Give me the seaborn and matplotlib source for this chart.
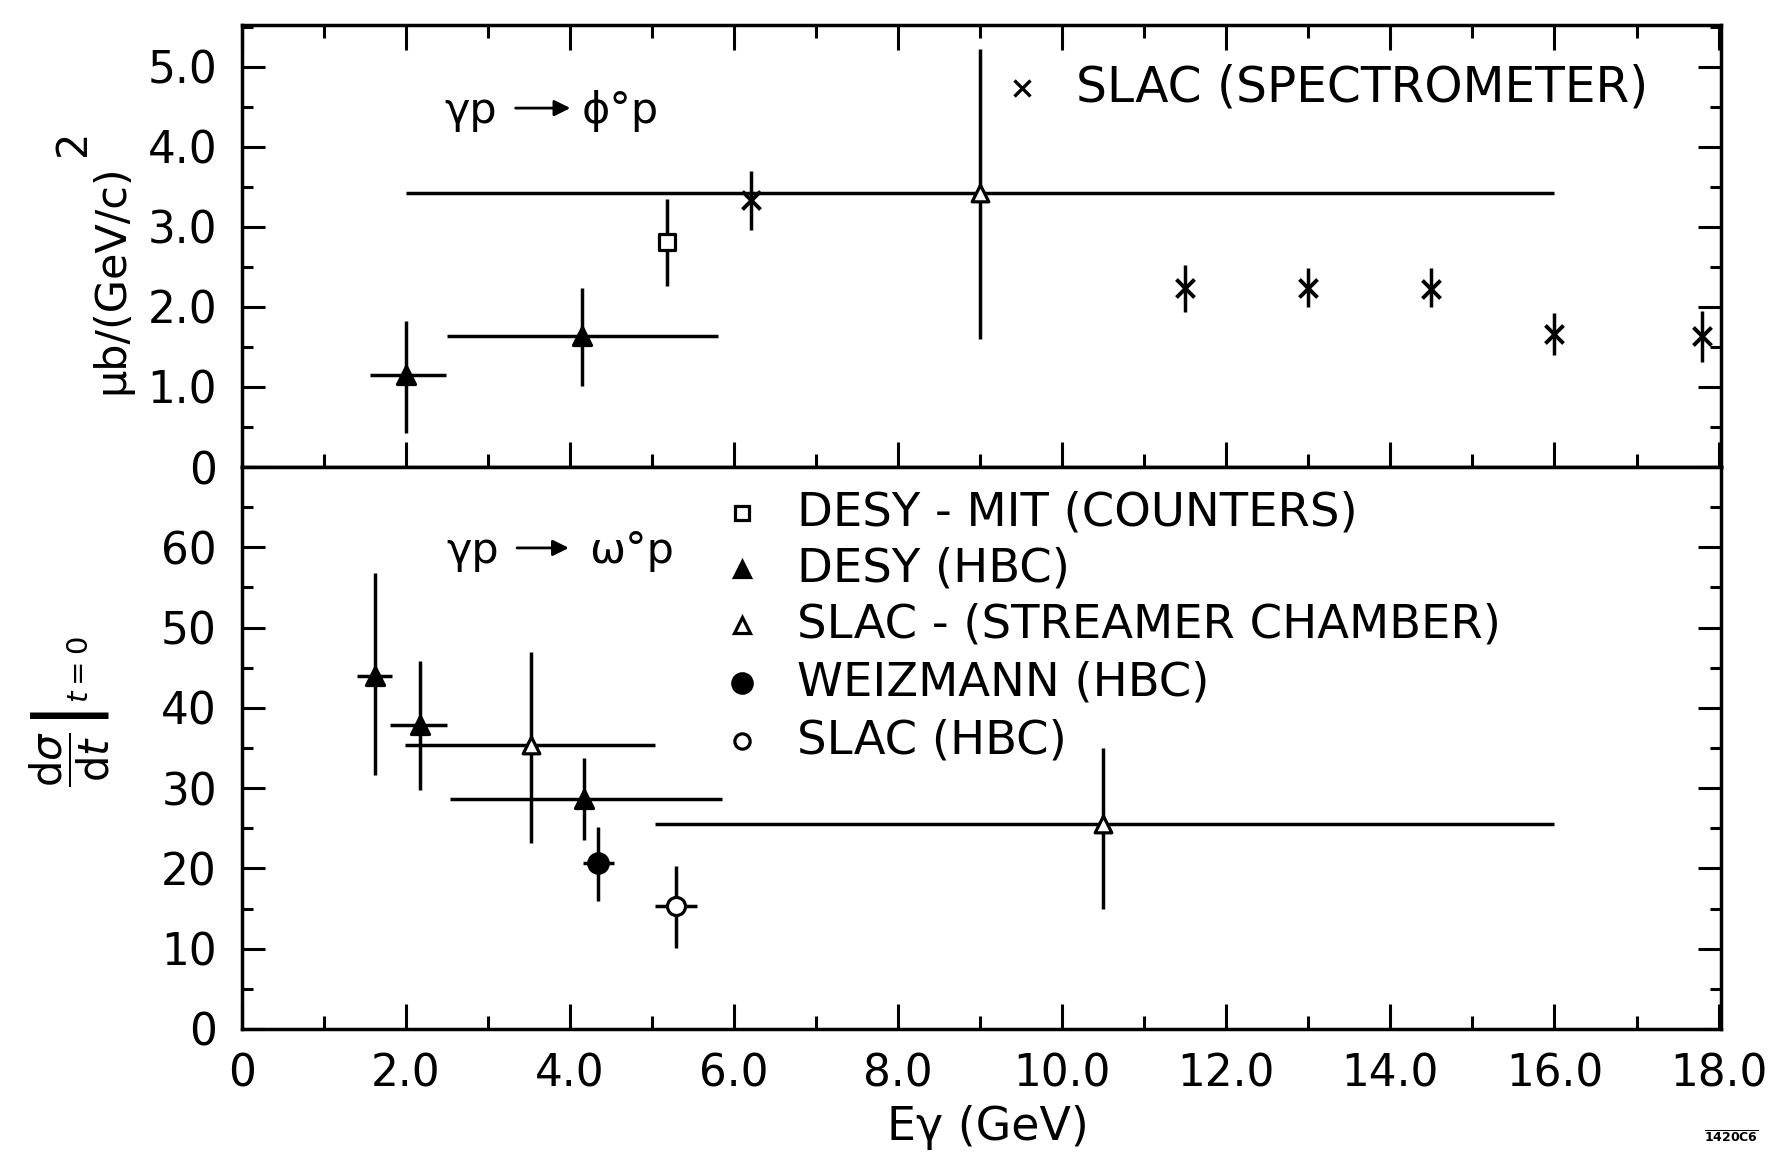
import matplotlib
matplotlib.use("Agg")
import matplotlib.pyplot as plt
from matplotlib.ticker import FixedLocator, MultipleLocator
import numpy as np
import pandas as pd
import seaborn as sns

# ---------------- gamma p -> phi p  (mub/(GeV/c)^2) ----------------
phi_desy_hbc_E = [2.00, 4.15]
phi_desy_hbc_val = [1.15, 1.63]
phi_desy_hbc_lo = [0.42, 1.01]
phi_desy_hbc_hi = [1.82, 2.23]
phi_desy_hbc_Elo = [1.56, 2.50]
phi_desy_hbc_Ehi = [2.49, 5.80]

phi_desy_mit_E = [5.18]
phi_desy_mit_val = [2.81]
phi_desy_mit_lo = [2.26]
phi_desy_mit_hi = [3.35]

phi_slac_spec_E = [6.2, 11.5, 13.0, 14.5, 16.0, 17.8]
phi_slac_spec_val = [3.34, 2.23, 2.23, 2.22, 1.66, 1.63]
phi_slac_spec_lo = [2.96, 1.93, 2.00, 2.00, 1.40, 1.31]
phi_slac_spec_hi = [3.70, 2.52, 2.48, 2.48, 1.92, 1.95]

phi_slac_stream_E = [9.0]
phi_slac_stream_val = [3.42]
phi_slac_stream_lo = [1.60]
phi_slac_stream_hi = [5.22]
phi_slac_stream_Elo = [2.0]
phi_slac_stream_Ehi = [16.0]

# ---------------- gamma p -> omega p ----------------
om_desy_hbc_E = [1.62, 2.17, 4.17]
om_desy_hbc_val = [44.0, 37.9, 28.6]
om_desy_hbc_lo = [31.6, 29.8, 23.6]
om_desy_hbc_hi = [56.8, 45.8, 33.8]
om_desy_hbc_Elo = [1.40, 1.81, 2.53]
om_desy_hbc_Ehi = [1.83, 2.50, 5.85]

om_slac_stream_E = [3.52, 10.5]
om_slac_stream_val = [35.4, 25.5]
om_slac_stream_lo = [23.2, 15.0]
om_slac_stream_hi = [47.0, 35.0]
om_slac_stream_Elo = [1.99, 5.03]
om_slac_stream_Ehi = [5.03, 16.0]

om_weizmann_E = [4.34]
om_weizmann_val = [20.7]
om_weizmann_lo = [16.0]
om_weizmann_hi = [25.2]
om_weizmann_Elo = [4.16]
om_weizmann_Ehi = [4.54]

om_slac_hbc_E = [5.29]
om_slac_hbc_val = [15.3]
om_slac_hbc_lo = [10.1]
om_slac_hbc_hi = [20.3]
om_slac_hbc_Elo = [5.04]
om_slac_hbc_Ehi = [5.55]

# ---------------- axes text ----------------
x_ticks = [0, 2, 4, 6, 8, 10, 12, 14, 16, 18]
x_tick_labels = ["0", "2.0", "4.0", "6.0", "8.0", "10.0", "12.0", "14.0", "16.0", "18.0"]
phi_ticks = [0, 1, 2, 3, 4, 5]
phi_tick_labels = ["0", "1.0", "2.0", "3.0", "4.0", "5.0"]
om_ticks = [0, 10, 20, 30, 40, 50, 60]
om_tick_labels = ["0", "10", "20", "30", "40", "50", "60"]

legend_omega = ["DESY - MIT (COUNTERS)", "DESY (HBC)", "SLAC - (STREAMER CHAMBER)",
                "WEIZMANN (HBC)", "SLAC (HBC)"]
legend_phi = "SLAC (SPECTROMETER)"

sns.set_theme(style="ticks")
plt.rcParams["font.family"] = ["DejaVu Sans"]
plt.rcParams["mathtext.fontset"] = "dejavusans"
for key in ("text.color", "axes.labelcolor", "xtick.color", "ytick.color",
            "axes.edgecolor"):
    plt.rcParams[key] = "black"

LW = 2.5
FS = 31.5

W, H = 1785, 1160
fig = plt.figure(figsize=(W / 100, H / 100), dpi=100)
fig.patch.set_facecolor("white")
x0, x1 = 242, 1721
ax_top = fig.add_axes([x0 / W, 1 - 467 / H, (x1 - x0) / W, (467 - 25) / H])
ax_bot = fig.add_axes([x0 / W, 1 - 1029 / H, (x1 - x0) / W, (1029 - 467) / H])


def draw(ax, E, val, lo, hi, Elo=None, Ehi=None, marker="^", face="black",
         size=11, mew=2.3):
    E = np.asarray(E, float)
    val = np.asarray(val, float)
    yerr = [val - np.asarray(lo, float), np.asarray(hi, float) - val]
    xerr = None
    if Elo is not None:
        xerr = [E - np.asarray(Elo, float), np.asarray(Ehi, float) - E]
    ax.errorbar(E, val, yerr=yerr, xerr=xerr, fmt="none", ecolor="black",
                elinewidth=LW, capsize=0, zorder=2)
    df = pd.DataFrame({"E": E, "v": val})
    sns.scatterplot(data=df, x="E", y="v", ax=ax, marker=marker, s=size ** 2,
                    color=face, edgecolor="black", linewidth=mew, zorder=3,
                    legend=False)


# phi panel
draw(ax_top, phi_slac_stream_E, phi_slac_stream_val, phi_slac_stream_lo,
     phi_slac_stream_hi, phi_slac_stream_Elo, phi_slac_stream_Ehi,
     marker="^", face="white", size=12)
draw(ax_top, phi_desy_hbc_E, phi_desy_hbc_val, phi_desy_hbc_lo, phi_desy_hbc_hi,
     phi_desy_hbc_Elo, phi_desy_hbc_Ehi, marker="^", face="black", size=13)
draw(ax_top, phi_desy_mit_E, phi_desy_mit_val, phi_desy_mit_lo, phi_desy_mit_hi,
     marker="s", face="white", size=11)
draw(ax_top, phi_slac_spec_E, phi_slac_spec_val, phi_slac_spec_lo,
     phi_slac_spec_hi, marker="x", face="black", size=13, mew=2.8)

# omega panel
draw(ax_bot, om_slac_stream_E, om_slac_stream_val, om_slac_stream_lo,
     om_slac_stream_hi, om_slac_stream_Elo, om_slac_stream_Ehi,
     marker="^", face="white", size=12)
draw(ax_bot, om_desy_hbc_E, om_desy_hbc_val, om_desy_hbc_lo, om_desy_hbc_hi,
     om_desy_hbc_Elo, om_desy_hbc_Ehi, marker="^", face="black", size=13)
draw(ax_bot, om_weizmann_E, om_weizmann_val, om_weizmann_lo, om_weizmann_hi,
     om_weizmann_Elo, om_weizmann_Ehi, marker="o", face="black", size=14)
draw(ax_bot, om_slac_hbc_E, om_slac_hbc_val, om_slac_hbc_lo, om_slac_hbc_hi,
     om_slac_hbc_Elo, om_slac_hbc_Ehi, marker="o", face="white", size=13)

# axes styling
for ax in (ax_top, ax_bot):
    ax.set_facecolor("white")
    ax.set_xlim(0, 18.03)
    ax.set_xlabel("")
    ax.set_ylabel("")
    for sp in ax.spines.values():
        sp.set_visible(True)
        sp.set_linewidth(LW)
        sp.set_color("black")
    ax.xaxis.set_major_locator(FixedLocator(x_ticks))
    ax.xaxis.set_minor_locator(MultipleLocator(1))
    ax.xaxis.set_tick_params(which="major", direction="in", length=18, width=2.2,
                             color="black")
    ax.xaxis.set_tick_params(which="minor", direction="in", length=9.5, width=2.2,
                             color="black")
    ax.yaxis.set_tick_params(which="major", direction="in", length=16.5, width=2.2,
                             color="black", left=True, right=True, labelsize=FS,
                             labelcolor="black", pad=18)
    ax.yaxis.set_tick_params(which="minor", direction="in", length=8, width=2.2,
                             color="black", left=True, right=True)

ax_top.set_ylim(0, 5.52)
ax_top.yaxis.set_major_locator(FixedLocator(phi_ticks))
ax_top.yaxis.set_minor_locator(MultipleLocator(0.5))
ax_top.set_yticklabels(phi_tick_labels)
ax_top.xaxis.set_tick_params(which="both", top=True, bottom=True,
                             labelbottom=False)

ax_bot.set_ylim(0, 70)
ax_bot.yaxis.set_major_locator(FixedLocator(om_ticks))
ax_bot.yaxis.set_minor_locator(MultipleLocator(5))
ax_bot.set_yticklabels(om_tick_labels)
ax_bot.xaxis.set_tick_params(which="both", top=False, bottom=True,
                             labelsize=FS, labelcolor="black", pad=17)
ax_bot.set_xticklabels(x_tick_labels)

# reaction labels
RFS = 31
ax_top.text(0.1366, 0.778, "γp", transform=ax_top.transAxes, fontsize=RFS,
            va="baseline", ha="left")
ax_top.annotate("", xy=(0.222, 0.812), xytext=(0.185, 0.812),
                xycoords="axes fraction",
                arrowprops=dict(arrowstyle="-|>", lw=2, color="black",
                                mutation_scale=24, shrinkA=0, shrinkB=0))
ax_top.text(0.2299, 0.778, "ϕ°p", transform=ax_top.transAxes, fontsize=RFS,
            va="baseline", ha="left")

ax_bot.text(0.138, 0.829, "γp", transform=ax_bot.transAxes, fontsize=RFS,
            va="baseline", ha="left")
ax_bot.annotate("", xy=(0.221, 0.856), xytext=(0.186, 0.856),
                xycoords="axes fraction",
                arrowprops=dict(arrowstyle="-|>", lw=2, color="black",
                                mutation_scale=24, shrinkA=0, shrinkB=0))
ax_bot.text(0.2346, 0.829, "ω°p", transform=ax_bot.transAxes, fontsize=RFS,
            va="baseline", ha="left")

# key for the phi panel
ax_top.plot([0.5276], [0.858], transform=ax_top.transAxes, marker="x", ms=11,
            mew=2.4, color="black", linestyle="none")
ax_top.text(0.5638, 0.858, legend_phi, transform=ax_top.transAxes, fontsize=35,
            va="center", ha="left")

# key for the omega panel
key_y = [0.919, 0.818, 0.719, 0.615, 0.512]
key_style = [("s", "white", 10), ("^", "black", 11), ("^", "white", 11),
             ("o", "black", 14), ("o", "white", 11)]
for yk, (mk, fc, ms), lab in zip(key_y, key_style, legend_omega):
    ax_bot.plot([0.338], [yk], transform=ax_bot.transAxes, marker=mk, ms=ms,
                mfc=fc, mec="black", mew=2.3, linestyle="none")
    ax_bot.text(0.375, yk, lab, transform=ax_bot.transAxes, fontsize=33.5,
                va="center", ha="left")

# axis titles
fig.text(111 / W, 1 - 279 / H, "μb/(GeV/c)", rotation=90, ha="center",
         va="center", fontsize=31)
fig.text(73 / W, 1 - 143 / H, "2", rotation=90, ha="center", va="center",
         fontsize=30)
fig.text(70 / W, 1 - 712 / H,
         r"$\left.\dfrac{\mathrm{d}\sigma}{\mathrm{d}t}\right|_{t=0}$",
         rotation=90, ha="center", va="center", fontsize=30)
fig.text(988 / W, 1 - 1128 / H, "Eγ (GeV)", ha="center", va="center",
         fontsize=33)
fig.text(1731 / W, 1 - 1138 / H, r"$\overline{\mathbf{1420C6}}$", ha="center",
         va="center", fontsize=9)

fig.savefig("out.png", dpi=100, facecolor="white")
